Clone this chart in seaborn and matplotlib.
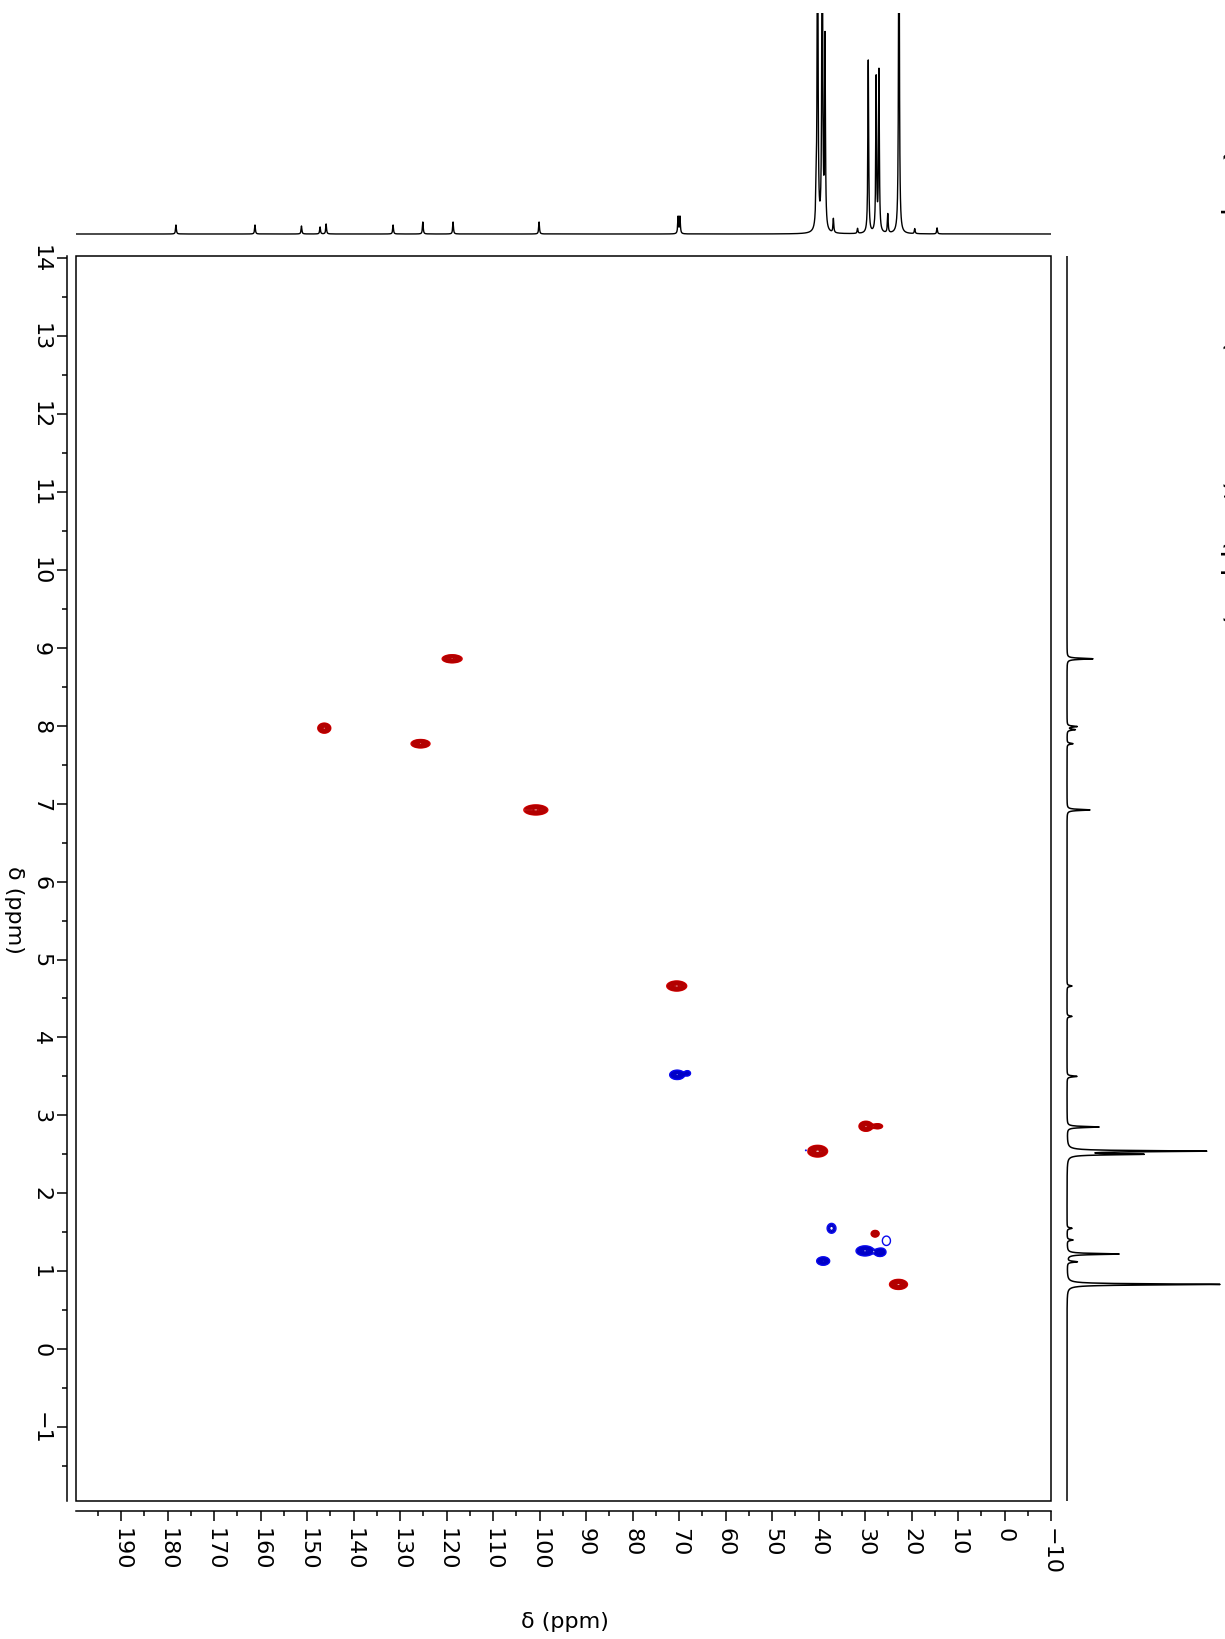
import numpy as np
import matplotlib
matplotlib.use("Agg")
import matplotlib.pyplot as plt
import seaborn as sns
from matplotlib.patches import Rectangle
from matplotlib.ticker import MultipleLocator

sns.set_theme(style="ticks")
plt.rcParams['font.family'] = ['DejaVu Sans']
plt.rcParams['text.color'] = 'black'
plt.rcParams['axes.edgecolor'] = 'black'
plt.rcParams['xtick.color'] = 'black'
plt.rcParams['ytick.color'] = 'black'

# HSQC cross peaks: 13C shift, 1H shift, amplitude (+ CH/CH3, - CH2), widths
cross_c = [118.8, 146.3, 125.6, 100.8, 70.5, 70.4, 68.2, 29.8, 27.3, 40.2, 42.7,
           37.2, 39.0, 30.0, 26.8, 25.4, 27.8, 22.8]
cross_h = [8.86, 7.97, 7.77, 6.92, 4.66, 3.52, 3.54, 2.86, 2.86, 2.54, 2.55,
           1.55, 1.13, 1.26, 1.24, 1.39, 1.48, 0.83]
cross_a = [1.0, 1.0, 1.0, 1.0, 1.0, -1.0, -0.4, 1.0, 0.5, 1.0, -0.15,
           -0.35, -1.0, -1.0, -0.8, -0.13, 0.7, 1.0]
cross_wc = [1.0, 0.65, 0.95, 1.2, 1.0, 0.75, 0.4, 0.7, 0.6, 1.0, 0.2,
            0.6, 0.65, 0.9, 0.6, 1.2, 0.45, 0.9]
cross_wh = [0.024, 0.03, 0.025, 0.03, 0.03, 0.028, 0.02, 0.03, 0.018, 0.035, 0.015,
            0.04, 0.025, 0.03, 0.025, 0.083, 0.022, 0.03]

# 1D 13C trace (top): shift, height
c13_ppm = [178.2, 161.2, 151.2, 147.2, 145.9, 131.5, 125.1, 118.6, 100.1, 70.2, 69.8,
           40.5, 40.2, 39.2, 38.6, 36.8, 31.6, 29.3, 27.6, 27.0, 25.1, 22.7, 19.3, 14.5]
c13_int = [9, 9, 8, 7, 10, 9, 12, 12, 12, 17, 17,
           33, 400, 400, 190, 14, 5, 173, 154, 161, 19, 400, 5, 6]

# 1D 1H trace (right): shift, height
h1_ppm = [8.86, 7.99, 7.95, 7.77, 6.92, 4.66, 4.27, 3.50, 2.85, 2.54, 2.50,
          1.55, 1.40, 1.22, 1.12, 0.83]
h1_int = [26, 10, 8, 6, 23, 5, 5, 10, 32, 137, 72, 5, 6, 52, 10, 153]

title = "\u00b9H-\u00b9\u00b3C HSQC spectrum (DMSO-d\u2086), \u03b4 (ppm)"

# 2D surface built from the cross peak table
gc = np.arange(-10, 200, 0.1)
gh = np.arange(-2, 14.05, 0.005)
Z = np.zeros((gh.size, gc.size))
for c, h, a, wc, wh in zip(cross_c, cross_h, cross_a, cross_wc, cross_wh):
    Z += a * np.outer(np.exp(-0.5 * ((gh - h) / wh) ** 2),
                      np.exp(-0.5 * ((gc - c) / wc) ** 2))

pos_levels = [0.1, 0.15, 0.21, 0.28, 0.36, 0.45, 0.55, 0.66, 0.78, 0.9]
neg_levels = [-l for l in pos_levels[::-1]]
red_cols = ["#e00000"] + ["#b30000"] * 9
blue_cols = ["#0000c8"] * 9 + ["#0a0aee"]

xc = np.arange(-10, 200, 0.02)
yc = np.zeros_like(xc)
for p, i in zip(c13_ppm, c13_int):
    yc += i * 0.1 ** 2 / ((xc - p) ** 2 + 0.1 ** 2)

xh = np.arange(-2, 14.05, 0.002)
yh = np.zeros_like(xh)
for p, i in zip(h1_ppm, h1_int):
    yh += i * 0.008 ** 2 / ((xh - p) ** 2 + 0.008 ** 2)

W, H = 1225, 1640
fig = plt.figure(figsize=(W / 100, H / 100), dpi=100)
ax = fig.add_axes([76 / W, 138 / H, 975 / W, 1245 / H])
ax_c = fig.add_axes([76 / W, 1 - 240 / H, 975 / W, 226 / H])
ax_h = fig.add_axes([1051 / W, 138 / H, 174 / W, 1245 / H])

ax.contour(gc, gh, Z, levels=pos_levels, colors=red_cols, linewidths=1.0)
ax.contour(gc, gh, Z, levels=neg_levels, colors=blue_cols, linewidths=1.0)
ax.set_xlim(199.7, -10)
ax.set_ylim(-1.95, 14.03)
ax.add_patch(Rectangle((0, 0), 1, 1, transform=ax.transAxes, fill=False,
                       lw=1.1, ec="black", clip_on=False))
for s in ["top", "right"]:
    ax.spines[s].set_visible(False)
ax.spines["left"].set_position(("outward", 6.5))
ax.spines["bottom"].set_position(("outward", 7.5))
for s in ["left", "bottom"]:
    ax.spines[s].set_linewidth(1.1)
ax.xaxis.set_major_locator(MultipleLocator(10))
ax.xaxis.set_minor_locator(MultipleLocator(5))
ax.yaxis.set_major_locator(MultipleLocator(1))
ax.yaxis.set_minor_locator(MultipleLocator(0.5))
ax.tick_params(which="major", length=7.5, width=1.1, labelsize=16, pad=4)
ax.tick_params(which="minor", length=3.6, width=1.1)
ax.tick_params(axis="x", labelrotation=-90)
ax.tick_params(axis="y", labelrotation=-90)
for t in ax.get_yticklabels():
    t.set_va("center")
ax.set_xlabel("")
ax.set_ylabel("")

sns.lineplot(x=xc, y=yc, ax=ax_c, color="black", lw=1.0, estimator=None, sort=False)
ax_c.set_xlim(199.7, -10)
ax_c.set_ylim(-5, 221)
ax_c.axis("off")

sns.lineplot(x=yh, y=xh, ax=ax_h, color="black", lw=1.1, estimator=None,
             sort=False, orient="y")
ax_h.set_ylim(-1.95, 14.03)
ax_h.set_xlim(-16, 158)
ax_h.axis("off")

fig.text(565 / W, 1 - 1622 / H, "\u03b4 (ppm)", fontsize=16, ha="center", va="center")
fig.text(14 / W, 1 - 910 / H, "\u03b4 (ppm)", fontsize=16, ha="center", va="center",
         rotation=-90)
fig.text(1226 / W, 1 - 2 / H, title, fontsize=21, rotation=-90,
         rotation_mode="anchor", ha="left", va="baseline")

fig.savefig("out.png", dpi=100)
